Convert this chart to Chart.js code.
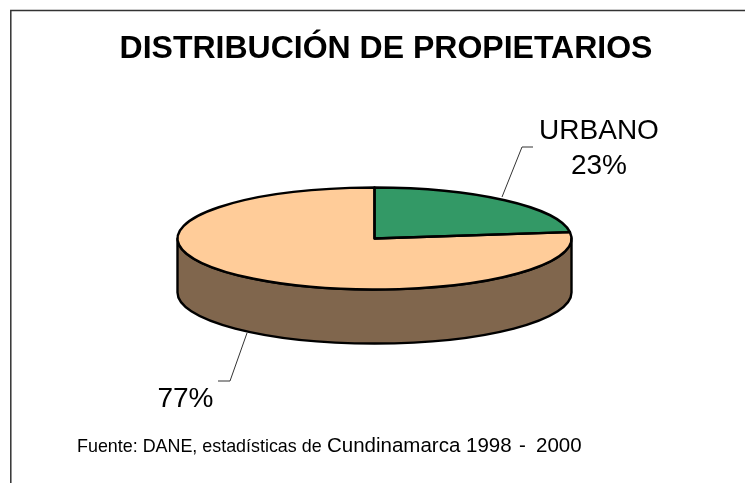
<!DOCTYPE html>
<html><head><meta charset="utf-8">
<style>html,body{margin:0;padding:0;background:#fff}canvas{display:block}</style>
<script src="https://cdn.jsdelivr.net/npm/chart.js@4"></script>
</head><body><canvas id="c" width="745" height="483"></canvas>
<script>
const titleText = "DISTRIBUCIÓN DE PROPIETARIOS";
const categories = ["URBANO", ""];
const values = [23, 77];
const topColors = ["#339966", "#FFCC99"];
const sideColors = ["#1A4D33", "#80664D"];
const sourceParts = ["Fuente: DANE, estadísticas de", "Cundinamarca 1998", "-", "2000"];

const FONT = '"Liberation Sans", Arial, sans-serif';
const PIE = {cx: 374.5, cy: 238.5, ry: 51, depth: 54};
const LABELS = [
  {x: 599, y: 139, leader: [[502, 197], [522, 147], [533, 147]]},
  {x: 185.5, y: 407, leader: [[247, 333], [230, 381], [218, 381]]}
];
const SOURCE_LAYOUT = [[77, 17.9], [327, 20.5], [519, 20.5], [536, 20.5]];

const pie3d = {
  id: "pie3d",
  beforeDatasetsDraw(chart) {
    const ctx = chart.ctx, arcs = chart.getDatasetMeta(0).data;
    ctx.save();
    ctx.strokeStyle = "#333"; ctx.lineWidth = 1.5;
    ctx.beginPath(); ctx.moveTo(10.8, 483); ctx.lineTo(10.8, 10.5); ctx.lineTo(745, 10.5); ctx.stroke();
    ctx.lineJoin = "round";
    arcs.forEach((arc, i) => {
      const rx = arc.outerRadius;
      const s = Math.max(arc.startAngle, 0), e = Math.min(arc.endAngle, Math.PI);
      if (e <= s) return;
      ctx.beginPath();
      ctx.ellipse(PIE.cx, PIE.cy, rx, PIE.ry, 0, s, e, false);
      ctx.ellipse(PIE.cx, PIE.cy + PIE.depth, rx, PIE.ry, 0, e, s, true);
      ctx.closePath();
      ctx.fillStyle = sideColors[i]; ctx.fill();
      ctx.strokeStyle = "#000"; ctx.lineWidth = 2.4; ctx.stroke();
    });
    ctx.restore();
    const a0 = arcs[0];
    ctx.save();
    ctx.translate(PIE.cx, PIE.cy);
    ctx.scale(1, PIE.ry / a0.outerRadius);
    ctx.translate(-a0.x, -a0.y);
  },
  afterDatasetsDraw(chart) {
    const ctx = chart.ctx, arcs = chart.getDatasetMeta(0).data;
    ctx.restore();
    ctx.save();
    ctx.lineJoin = "round";
    arcs.forEach(arc => {
      ctx.beginPath();
      ctx.moveTo(PIE.cx, PIE.cy);
      ctx.ellipse(PIE.cx, PIE.cy, arc.outerRadius, PIE.ry, 0, arc.startAngle, arc.endAngle, false);
      ctx.closePath();
      ctx.strokeStyle = "#000"; ctx.lineWidth = 2.4; ctx.stroke();
    });
    const total = values.reduce((a, b) => a + b, 0);
    ctx.fillStyle = "#000";
    ctx.textAlign = "center"; ctx.textBaseline = "alphabetic";
    ctx.font = "28px " + FONT;
    LABELS.forEach((l, i) => {
      ctx.beginPath();
      l.leader.forEach((pt, j) => j ? ctx.lineTo(pt[0], pt[1]) : ctx.moveTo(pt[0], pt[1]));
      ctx.strokeStyle = "#333"; ctx.lineWidth = 1; ctx.stroke();
      const pct = Math.round(values[i] / total * 100) + "%";
      if (categories[i]) {
        ctx.fillText(categories[i], l.x, l.y);
        ctx.fillText(pct, l.x, l.y + 34.5);
      } else {
        ctx.fillText(pct, l.x, l.y);
      }
    });
    ctx.textAlign = "left";
    sourceParts.forEach((t, i) => {
      ctx.font = SOURCE_LAYOUT[i][1] + "px " + FONT;
      ctx.fillText(t, SOURCE_LAYOUT[i][0], 452);
    });
    ctx.restore();
  }
};

new Chart(document.getElementById("c"), {
  type: "pie",
  data: {labels: categories, datasets: [{data: values, backgroundColor: topColors, borderWidth: 0, radius: 197}]},
  plugins: [pie3d],
  options: {
    responsive: false, animation: false, events: [],
    layout: {padding: {left: 27, right: 0, top: 0, bottom: 0}},
    plugins: {
      legend: {display: false}, tooltip: {enabled: false},
      title: {display: true, text: titleText, color: "#000",
        font: {family: FONT, size: 32, weight: "bold"}, padding: {top: 30, bottom: 0}}
    }
  }
});
</script></body></html>
